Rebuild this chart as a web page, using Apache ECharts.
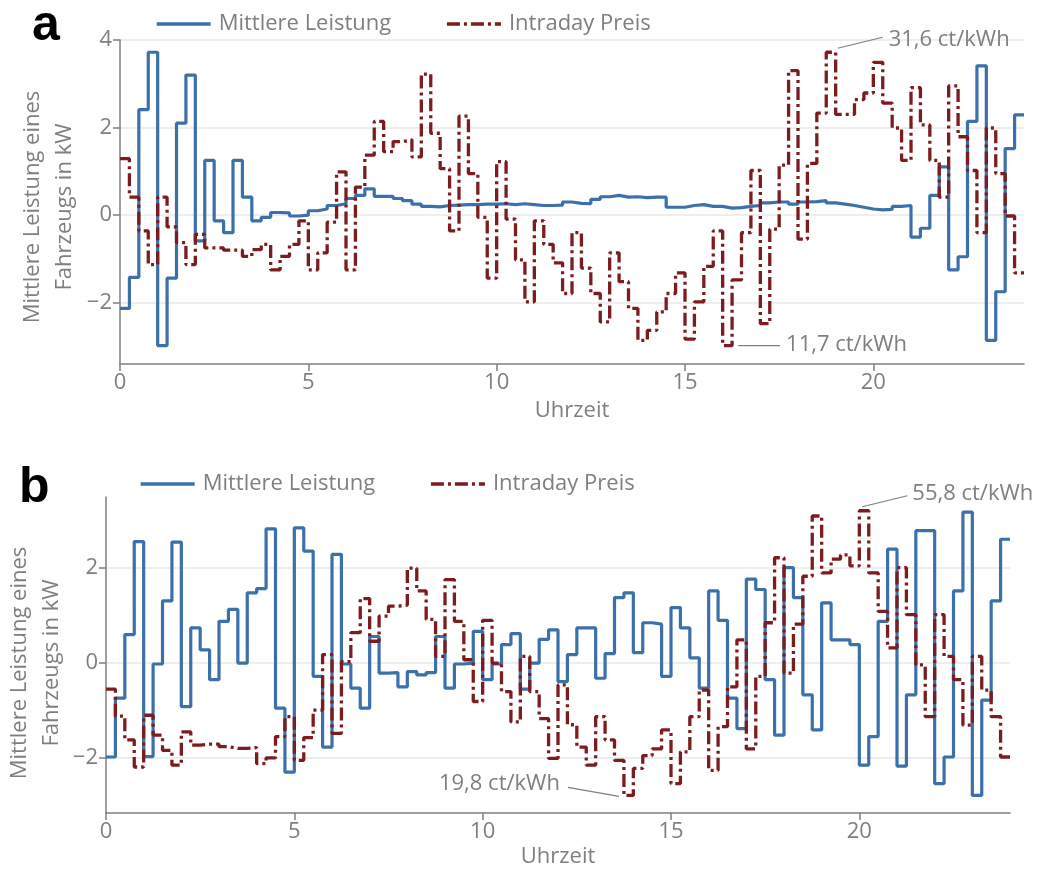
<!DOCTYPE html>
<html>
<head>
<meta charset="utf-8">
<script src="https://cdn.jsdelivr.net/npm/echarts@6/dist/echarts.min.js"></script>
<style>
html,body{margin:0;padding:0;background:#ffffff;}
#chart{width:1039px;height:877px;}
</style>
</head>
<body>
<div id="chart"></div>
<script>
// ---------------- data ----------------
const SERIES_NAMES = ['Mittlere Leistung', 'Intraday Preis'];
const X_TICKS = [0, 5, 10, 15, 20];
const Y_TICKS_A = [-2, 0, 2, 4];
const Y_TICKS_B = [-2, 0, 2];
const X_NAME = 'Uhrzeit';
const Y_NAME = 'Mittlere Leistung eines\nFahrzeugs in kW';
const PANEL_LABELS = ['a', 'b'];

// quarter-hour values, 96 per series (00:00 ... 23:45)
const POWER_A = [
  -2.13, -1.42, 2.41, 3.72, -2.98, -1.44, 2.10, 3.20,
  -0.59, 1.25, -0.13, -0.40, 1.25, 0.41, -0.13, -0.05,
  0.06, 0.05, -0.02, 0.00, 0.10, 0.14, 0.22, 0.26,
  0.38, 0.45, 0.60, 0.43, 0.43, 0.38, 0.33, 0.25,
  0.20, 0.19, 0.22, 0.23, 0.24, 0.24, 0.25, 0.25,
  0.26, 0.24, 0.26, 0.24, 0.22, 0.22, 0.23, 0.30,
  0.27, 0.26, 0.36, 0.42, 0.45, 0.41, 0.42, 0.40,
  0.41, 0.41, 0.18, 0.18, 0.22, 0.24, 0.20, 0.20,
  0.16, 0.17, 0.20, 0.22, 0.28, 0.30, 0.30, 0.25,
  0.30, 0.31, 0.33, 0.28, 0.25, 0.22, 0.18, 0.14,
  0.12, 0.13, 0.20, 0.22, -0.50, -0.30, 0.45, 1.10,
  -1.25, -0.95, 2.14, 3.41, -2.86, -1.75, 1.52, 2.29
];
const PRICE_A = [
  1.29, 0.41, -0.36, -1.13, 0.41, -0.27, -0.63, -1.13,
  -0.44, -0.75, -0.75, -0.80, -0.80, -0.94, -0.79, -0.67,
  -1.25, -0.94, -0.67, -0.13, -1.25, -0.86, -0.16, 0.99,
  -1.25, 0.64, 1.37, 2.14, 1.45, 1.68, 1.72, 1.33,
  3.22, 1.87, 1.06, -0.36, 2.26, 0.95, -0.05, -1.44,
  1.22, -0.09, -1.02, -1.98, -0.13, -0.67, -1.09, -1.79,
  -0.40, -1.21, -1.79, -2.44, -0.86, -1.52, -2.13, -2.86,
  -2.63, -2.21, -1.79, -1.32, -2.83, -1.98, -1.17, -0.36,
  -2.98, -1.48, -0.40, 1.02, -2.48, -0.32, 1.14, 3.30,
  -0.55, 1.18, 2.33, 3.72, 2.30, 2.30, 2.64, 2.79,
  3.49, 2.56, 1.99, 1.25, 2.91, 2.06, 1.25, 0.41,
  2.95, 1.79, 1.02, -0.40, 1.99, 0.95, -0.02, -1.32
];
const POWER_B = [
  -1.98, -0.74, 0.60, 2.56, -1.97, -0.02, 1.31, 2.55,
  -0.92, 0.74, 0.28, -0.35, 0.88, 1.13, 0.00, 1.48,
  1.57, 2.83, -0.95, -2.30, 2.85, 2.36, -0.28, -1.77,
  2.29, -0.02, -0.53, -0.95, 0.56, -0.21, -0.20, -0.50,
  -0.18, -0.25, -0.20, 0.56, -0.53, -0.02, 0.00, 0.67,
  -0.35, -0.02, 0.39, 0.62, -0.55, 0.00, 0.50, 0.70,
  -0.39, 0.18, 0.74, 0.74, -0.32, 0.20, 1.38, 1.48,
  0.22, 0.85, 0.82, -0.28, 1.17, 0.74, 0.11, -0.53,
  1.52, 0.90, -0.74, -1.38, 1.77, 1.55, -0.35, -1.52,
  2.01, 1.38, -0.67, -1.41, 1.27, 0.49, 0.49, 0.39,
  -2.15, -1.55, 0.88, 2.40, -2.17, -0.67, 2.79, 2.79,
  -2.54, -1.98, 1.52, 3.18, -2.79, -0.78, 1.31, 2.61
];
const PRICE_B = [
  -0.55, -1.12, -1.62, -2.19, -1.10, -1.52, -1.84, -2.15,
  -1.45, -1.73, -1.71, -1.71, -1.76, -1.80, -1.80, -1.78,
  -2.12, -2.00, -1.55, -1.13, -2.05, -1.57, -0.99, 0.18,
  -1.48, 0.03, 0.64, 1.36, 0.46, 0.99, 1.20, 1.22,
  2.00, 1.52, 0.92, 0.14, 1.76, 0.88, 0.07, -0.81,
  0.90, 0.00, -0.60, -1.24, 0.14, -0.60, -1.17, -2.01,
  -0.46, -1.30, -1.77, -2.15, -1.13, -1.62, -2.05, -2.79,
  -2.22, -1.95, -1.81, -1.41, -2.54, -1.87, -1.13, -0.57,
  -2.26, -1.34, -0.50, 0.49, -1.81, -0.28, 0.85, 2.22,
  -0.21, 0.82, 1.83, 3.10, 1.90, 2.19, 2.28, 2.05,
  3.21, 1.90, 1.09, 0.32, 2.01, 1.02, -0.04, -1.13,
  1.02, 0.14, -0.35, -1.31, 0.14, -0.57, -1.13, -1.98
];
const ANNOT_A = ['31,6 ct/kWh', '11,7 ct/kWh'];
const ANNOT_B = ['55,8 ct/kWh', '19,8 ct/kWh'];

// ---------------- styling ----------------
const STEP_H = 0.25; // quarter hour
const BLUE = '#3b70ab';
const RED = '#7c1c1e';
const GREY = '#7f7f7f';
const GRID_GREY = '#e8e8e8';
const FONT = '"Open Sans", "Noto Sans", sans-serif';
const FS = 22;

function toSteps(vals) {
  const d = vals.map((v, i) => [i * STEP_H, v]);
  d.push([vals.length * STEP_H, vals[vals.length - 1]]);
  return d;
}
const minusFmt = v => (v < 0 ? '\u2212' + Math.abs(v) : String(v));

function xAxisCfg(gridIndex, nameGap) {
  return {
    type: 'value', gridIndex, min: 0, max: 24,
    name: X_NAME, nameLocation: 'middle', nameGap,
    nameTextStyle: { color: GREY, fontSize: FS, fontFamily: FONT },
    axisLine: { show: true, onZero: false, lineStyle: { color: GREY, width: 1.5 } },
    axisTick: { show: true, customValues: X_TICKS, length: 7, lineStyle: { color: GREY, width: 1.5 } },
    axisLabel: { show: true, customValues: X_TICKS, color: GREY, fontSize: FS, fontFamily: FONT, margin: 8 },
    splitLine: { show: false }
  };
}
function yAxisCfg(gridIndex, min, max, ticks) {
  return {
    type: 'value', gridIndex, min, max,
    axisLine: { show: true, onZero: false, lineStyle: { color: GREY, width: 1.5 } },
    axisTick: { show: true, customValues: ticks, length: 7, lineStyle: { color: GREY, width: 1.5 } },
    axisLabel: { show: true, customValues: ticks, color: GREY, fontSize: FS, fontFamily: FONT, margin: 8, formatter: minusFmt },
    splitLine: { show: true, lineStyle: { color: GRID_GREY, width: 1.5 } }
  };
}
function powerSeries(idx, vals) {
  return {
    name: SERIES_NAMES[0], type: 'line', xAxisIndex: idx, yAxisIndex: idx,
    data: toSteps(vals), step: 'end', symbol: 'none', showSymbol: false,
    lineStyle: { color: BLUE, width: 3.2 }, itemStyle: { color: BLUE }, z: 2
  };
}
function priceSeries(idx, vals) {
  return {
    name: SERIES_NAMES[1], type: 'line', xAxisIndex: idx, yAxisIndex: idx,
    data: toSteps(vals), step: 'end', symbol: 'none', showSymbol: false,
    lineStyle: { color: RED, width: 3.3, type: [13, 4, 3, 4] }, itemStyle: { color: RED }, z: 3
  };
}
function legendCfg(left, top) {
  return {
    data: SERIES_NAMES, left, top, orient: 'horizontal',
    itemWidth: 54, itemHeight: 14, itemGap: 54,
    itemStyle: { opacity: 0 },
    lineStyle: { width: 3.3 },
    textStyle: { color: GREY, fontSize: FS, fontFamily: FONT, padding: [0, 0, 0, 3] }
  };
}

const chart = echarts.init(document.getElementById('chart'), null, { renderer: 'canvas' });
chart.setOption({
  animation: false,
  backgroundColor: '#ffffff',
  textStyle: { fontFamily: FONT },
  grid: [
    { left: 120, right: 15, top: 40, bottom: 513, containLabel: false },
    { left: 106, right: 29, top: 497, bottom: 64, containLabel: false }
  ],
  legend: [legendCfg(150, 8), legendCfg(134, 468)],
  xAxis: [xAxisCfg(0, 36), xAxisCfg(1, 33)],
  yAxis: [yAxisCfg(0, -3.4, 4, Y_TICKS_A), yAxisCfg(1, -3.16, 3.5, Y_TICKS_B)],
  series: [
    powerSeries(0, POWER_A), priceSeries(0, PRICE_A),
    powerSeries(1, POWER_B), priceSeries(1, PRICE_B)
  ]
});

// ---------------- annotations anchored to data ----------------
function extremeStep(vals, useMax) {
  let k = 0;
  vals.forEach((v, i) => { if (useMax ? v > vals[k] : v < vals[k]) k = i; });
  return { start: k * STEP_H, end: (k + 1) * STEP_H, v: vals[k] };
}
function px(grid, t, v) { return chart.convertToPixel({ xAxisIndex: grid, yAxisIndex: grid }, [t, v]); }

const ann = [];
function leader(p1, p2) {
  ann.push({ type: 'line', silent: true, z: 10,
    shape: { x1: p1[0], y1: p1[1], x2: p2[0], y2: p2[1] },
    style: { stroke: GREY, lineWidth: 1.2 } });
}
function label(x, y, text, align) {
  ann.push({ type: 'text', silent: true, z: 10, x, y,
    style: { text, fill: GREY, font: FS + 'px ' + FONT, align, verticalAlign: 'middle' } });
}
// panel a maximum
{
  const e = extremeStep(PRICE_A, true); const p = px(0, e.end, e.v);
  leader([p[0] + 2, p[1] - 4], [p[0] + 47, p[1] - 15]);
  label(p[0] + 53, p[1] - 13, ANNOT_A[0], 'left');
}
// panel a minimum
{
  const e = extremeStep(PRICE_A, false); const p = px(0, e.end, e.v);
  leader([p[0] + 6, p[1]], [p[0] + 48, p[1]]);
  label(p[0] + 54, p[1] - 1, ANNOT_A[1], 'left');
}
// panel b maximum
{
  const e = extremeStep(PRICE_B, true); const p = px(1, e.start, e.v);
  leader([p[0] + 3, p[1] - 4], [p[0] + 48, p[1] - 15]);
  label(p[0] + 53, p[1] - 17, ANNOT_B[0], 'left');
}
// panel b minimum
{
  const e = extremeStep(PRICE_B, false); const p = px(1, e.start, e.v);
  leader([p[0] - 5, p[1] + 1], [p[0] - 56, p[1] - 8]);
  label(p[0] - 64, p[1] - 12, ANNOT_B[1], 'right');
}
// panel letters and y-axis names
ann.push({ type: 'text', silent: true, x: 32, y: 26,
  style: { text: PANEL_LABELS[0], fill: '#000', font: 'bold 50px "Liberation Sans", Arial, sans-serif', align: 'left', verticalAlign: 'middle' } });
ann.push({ type: 'text', silent: true, x: 19, y: 488,
  style: { text: PANEL_LABELS[1], fill: '#000', font: 'bold 50px "Liberation Sans", Arial, sans-serif', align: 'left', verticalAlign: 'middle' } });
ann.push({ type: 'text', silent: true, x: 49, y: 207, rotation: Math.PI / 2,
  style: { text: Y_NAME, fill: GREY, font: FS + 'px ' + FONT, align: 'center', verticalAlign: 'middle', lineHeight: 32 } });
ann.push({ type: 'text', silent: true, x: 36, y: 663, rotation: Math.PI / 2,
  style: { text: Y_NAME, fill: GREY, font: FS + 'px ' + FONT, align: 'center', verticalAlign: 'middle', lineHeight: 32 } });

chart.setOption({ graphic: ann });
</script>
</body>
</html>
